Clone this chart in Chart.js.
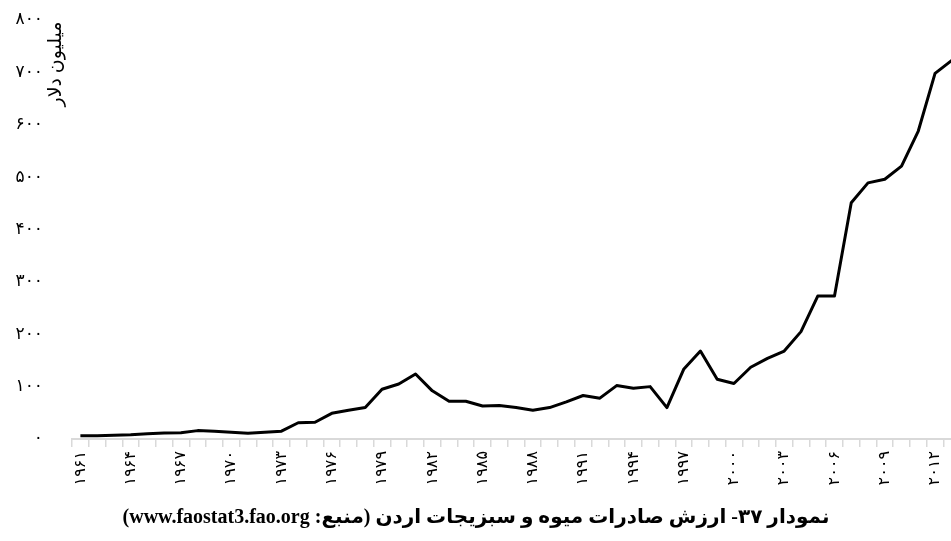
<!DOCTYPE html>
<html lang="fa">
<head>
<meta charset="utf-8">
<script src="https://cdn.jsdelivr.net/npm/chart.js@4.4.1/dist/chart.umd.min.js"></script>
<style>
  html, body { margin: 0; padding: 0; background: #fff; overflow: hidden; }
  #wrap { position: relative; width: 975px; height: 541px; }
</style>
</head>
<body>
<div id="wrap"><canvas id="exportChart"></canvas></div>
<script>
// سال‌ها ۱۹۶۱ تا ۲۰۱۳
const years = [];
for (let y = 1961; y <= 2013; y++) years.push(y);

// ارزش صادرات میوه و سبزیجات (میلیون دلار)
const exportValues = [
  6, 6, 7, 8, 10, 11.5, 12, 16, 15, 13,
  11, 13, 15, 31, 32, 49, 55, 60, 95, 105,
  124, 92, 72, 72, 63, 64, 60, 55, 60, 71,
  83, 78, 102, 97, 100, 60, 133, 168, 114, 106,
  137, 154, 168, 205, 273, 273, 451, 489, 496, 521,
  588, 698, 723
];

const yTicks = [0, 100, 200, 300, 400, 500, 600, 700, 800];

const chartTitle = 'نمودار ۳۷- ارزش صادرات میوه و سبزیجات اردن (منبع: www.faostat3.fao.org)';
const yTitle = 'میلیون دلار';

const faDigits = '۰۱۲۳۴۵۶۷۸۹';
function toFa(n) {
  return String(n).replace(/[0-9]/g, d => faDigits[d]);
}

const fontStack = '"Liberation Serif", "DejaVu Sans", serif';

// عنوان نمودار و عنوان محور عمودی
const textPlugin = {
  id: 'chartTexts',
  afterDraw(chart) {
    const ctx = chart.ctx;
    ctx.save();
    ctx.fillStyle = '#000';
    ctx.direction = 'rtl';
    ctx.textAlign = 'center';
    ctx.textBaseline = 'middle';
    ctx.font = 'bold 20px ' + fontStack;
    ctx.fillText(chartTitle, 476, 518);

    ctx.translate(56, 64);
    ctx.rotate(-Math.PI / 2);
    ctx.font = '19px ' + fontStack;
    ctx.fillText(yTitle, 0, 0);
    ctx.restore();
  }
};

new Chart(document.getElementById('exportChart'), {
  type: 'line',
  data: {
    labels: years,
    datasets: [{
      data: exportValues,
      borderColor: '#000',
      borderWidth: 3,
      borderJoinStyle: 'round',
      pointRadius: 0,
      tension: 0,
      fill: false
    }]
  },
  options: {
    responsive: true,
    maintainAspectRatio: false,
    animation: false,
    layout: { padding: { top: 20, bottom: 42, left: 0, right: 0 } },
    plugins: {
      legend: { display: false },
      tooltip: { enabled: false },
      title: { display: false }
    },
    scales: {
      x: {
        type: 'category',
        offset: true,
        afterFit(scale) { scale.height = 60; },
        grid: {
          offset: true,
          drawOnChartArea: false,
          drawTicks: true,
          tickLength: 8,
          color: '#d9d9d9',
          lineWidth: 1.5
        },
        border: { display: true, color: '#d9d9d9', width: 2 },
        ticks: {
          autoSkip: false,
          minRotation: 90,
          maxRotation: 90,
          padding: 4,
          color: '#000',
          font: { family: fontStack, size: 16 },
          callback(value, index) {
            return index % 3 === 0 ? toFa(years[index]) : '';
          }
        }
      },
      y: {
        min: 0,
        max: 800,
        afterFit(scale) {
          scale.width = 72;
          scale.paddingTop = 0;
          scale.paddingBottom = 0;
        },
        afterBuildTicks(scale) {
          scale.ticks = yTicks.map(v => ({ value: v }));
        },
        grid: { display: false, drawTicks: false },
        border: { display: false },
        ticks: {
          padding: 29,
          color: '#000',
          font: { family: fontStack, size: 17 },
          callback(value) { return toFa(value); }
        }
      }
    }
  },
  plugins: [textPlugin]
});
</script>
</body>
</html>
